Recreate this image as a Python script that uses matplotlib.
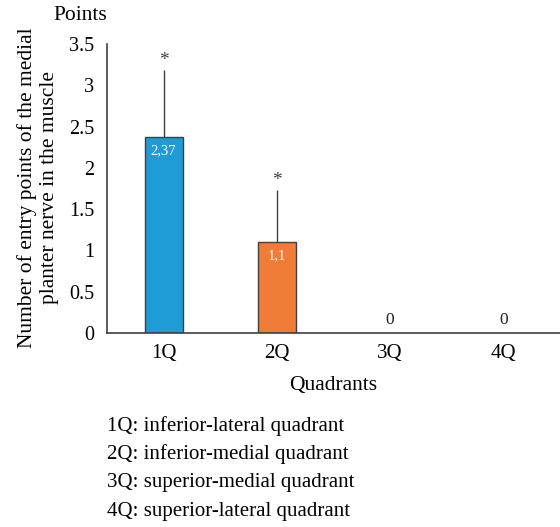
import matplotlib
matplotlib.use("Agg")
import matplotlib.pyplot as plt

plt.rcParams['font.family'] = ['Liberation Serif', 'DejaVu Serif']

categories = ["1Q", "2Q", "3Q", "4Q"]
values = [2.37, 1.1, 0, 0]
errors_upper = [0.81, 0.63, 0, 0]
value_labels = ["2,37", "1,1", "0", "0"]
bar_colors = ["#1F9BD6", "#F07C38", "#1F9BD6", "#1F9BD6"]
yticks = [0, 0.5, 1, 1.5, 2, 2.5, 3, 3.5]
ytick_labels = ["0", "0.5", "1", "1.5", "2", "2.5", "3", "3.5"]
notes = ["1Q: inferior-lateral quadrant",
         "2Q: inferior-medial quadrant",
         "3Q: superior-medial quadrant",
         "4Q: superior-lateral quadrant"]

fig = plt.figure(figsize=(5.6, 5.27), dpi=100)
ax = fig.add_axes([0.191, 0.368, 0.809, 0.5485])

x = list(range(len(categories)))
for i in x:
    if values[i] > 0:
        ax.bar(i, values[i], width=0.335, color=bar_colors[i],
               edgecolor="#404040", linewidth=1.0, zorder=2)
        ax.errorbar(i, values[i], yerr=[[0], [errors_upper[i]]], fmt='none',
                    ecolor="#404040", elinewidth=1.0, capsize=0, zorder=1)
        ax.text(i, values[i] + errors_upper[i] + 0.02, "*", ha='center', va='bottom',
                fontsize=14, color="#404040")
        ax.text(i, values[i] - 0.08, value_labels[i], ha='center', va='top',
                fontsize=10.5, color='white', zorder=3)
    else:
        ax.text(i, 0.06, value_labels[i], ha='center', va='bottom',
                fontsize=12.5, color='#222222')

ax.set_xlim(-0.5, 3.5)
ax.set_ylim(0, 3.5)
ax.set_xticks(x)
ax.set_xticklabels(categories, fontsize=15)
ax.set_yticks(yticks)
ax.set_yticklabels(ytick_labels, fontsize=14.5)
ax.tick_params(axis='y', length=0, pad=9)
ax.tick_params(axis='x', length=0, pad=8)
for s in ['top', 'right']:
    ax.spines[s].set_visible(False)
for s in ['left', 'bottom']:
    ax.spines[s].set_color('#404040')
    ax.spines[s].set_linewidth(1.2)

ax.set_xlabel("Quadrants", fontsize=15.5, labelpad=9)
fig.text(38/560, 1 - 188/527,
         "Number of entry points of the medial\nplanter nerve in the muscle",
         rotation=90, ha='center', va='center', fontsize=15.5, linespacing=1.15)
fig.text(107/560, 1 - 15/527, "Points", ha='right', va='center', fontsize=15.5)

for k, t in enumerate(notes):
    fig.text(107/560, 1 - (426 + 28.5 * k)/527, t, ha='left', va='center', fontsize=15)

fig.savefig("out.png", dpi=100)
